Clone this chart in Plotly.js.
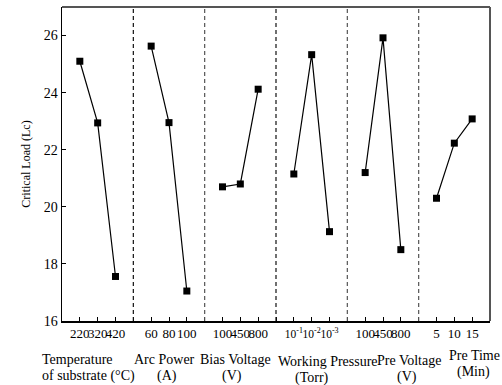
<!DOCTYPE html>
<html>
<head>
<meta charset="utf-8">
<script src="https://cdn.plot.ly/plotly-3.0.1.min.js"></script>
<style>html,body{margin:0;padding:0;background:#fff;}#chart{width:502px;height:385px;}</style>
</head>
<body>
<div id="chart"></div>
<script>
// Factor groups (two-line labels under the axis)
const groupLine1 = ["Temperature", "Arc Power", "Bias Voltage", "Working Pressure", "Pre Voltage", "Pre Time"];
const groupLine2 = ["of substrate (°C)", "(A)", "(V)", "(Torr)", "(V)", "(Min)"];
// Level tick labels per group
const levelsTemp = ["220", "320", "420"];
const levelsArc = ["60", "80", "100"];
const levelsBias = ["100", "450", "800"];
const levelsPressure = ["<span style='font-size:11.5px'>10<sup>-1</sup></span>", "<span style='font-size:11.5px'>10<sup>-2</sup></span>", "<span style='font-size:11.5px'>10<sup>-3</sup></span>"];
const levelsPreVolt = ["100", "450", "800"];
const levelsPreTime = ["5", "10", "15"];
// Critical load values (Lc) per group
const lcTemp = [25.1, 22.94, 17.56];
const lcArc = [25.63, 22.95, 17.05];
const lcBias = [20.7, 20.8, 24.12];
const lcPressure = [21.15, 25.33, 19.13];
const lcPreVolt = [21.2, 25.92, 18.5];
const lcPreTime = [20.3, 22.23, 23.08];

const levels = [levelsTemp, levelsArc, levelsBias, levelsPressure, levelsPreVolt, levelsPreTime];
const values = [lcTemp, lcArc, lcBias, lcPressure, lcPreVolt, lcPreTime];

const traces = [];
const tickvals = [], ticktext = [], sepvals = [];
levels.forEach((lv, g) => {
  const xs = lv.map((_, j) => g * 4 + j + 1);
  traces.push({
    x: xs, y: values[g], type: 'scatter', mode: 'lines+markers',
    line: {color: '#000', width: 1.2},
    marker: {symbol: 'square', size: 7, color: '#000'},
    showlegend: false, hoverinfo: 'skip'
  });
  xs.forEach((x, j) => { tickvals.push(x); ticktext.push(lv[j]); });
  if (g < levels.length - 1) sepvals.push(g * 4 + 4);
});

const shapes = [];
const sepColors = ['#111', '#555', '#111', '#555', '#555'];
sepvals.forEach((v, k) => {
  shapes.push({type: 'line', xref: 'x', yref: 'paper', x0: v, x1: v, y0: 0, y1: 1,
    line: {color: sepColors[k], width: 1.2, dash: '4px,3px'}});
});
// top and right frame in grey
shapes.push({type: 'line', xref: 'paper', yref: 'paper', x0: 0, x1: 1, y0: 1, y1: 1, line: {color: '#555', width: 2}});
shapes.push({type: 'line', xref: 'paper', yref: 'paper', x0: 1, x1: 1, y0: 0, y1: 1, line: {color: '#555', width: 2}});

const L = 62, R = 490, T = 7, B = 321;
const pos1 = [
  {x: 40, y: 359, anchor: 'left'}, {x: 164, y: 359, anchor: 'center'}, {x: 235, y: 359, anchor: 'center'},
  {x: 328, y: 361, anchor: 'center'}, {x: 409, y: 360, anchor: 'center'}, {x: 474, y: 355, anchor: 'center'}
];
const pos2 = [
  {x: 40, y: 376, anchor: 'left'}, {x: 167, y: 376, anchor: 'center'}, {x: 232, y: 376, anchor: 'center'},
  {x: 312, y: 378, anchor: 'center'}, {x: 407, y: 377, anchor: 'center'}, {x: 473, y: 372, anchor: 'center'}
];
const annFont = {family: 'Liberation Serif, Times New Roman, serif', size: 14, color: '#000'};
const annotations = [];
[[groupLine1, pos1], [groupLine2, pos2]].forEach(([texts, pos]) => {
  texts.forEach((t, g) => annotations.push({
    text: t, showarrow: false, xref: 'paper', yref: 'paper',
    x: (pos[g].x - L) / (R - L), y: (B - pos[g].y) / (B - T),
    xanchor: pos[g].anchor, yanchor: 'middle', font: annFont
  }));
});

const layout = {
  width: 502, height: 385,
  margin: {l: L, r: 502 - R, t: T, b: 385 - B},
  paper_bgcolor: '#fff', plot_bgcolor: '#fff',
  font: {family: 'Liberation Serif, Times New Roman, serif', size: 14, color: '#000'},
  xaxis: {
    range: [0, 24], tickmode: 'array', tickvals: tickvals, ticktext: ticktext,
    ticks: 'inside', ticklen: 4, tickcolor: '#000', tickwidth: 1,
    minor: {tickmode: 'array', tickvals: sepvals, ticks: 'inside', ticklen: 4, tickcolor: '#000', tickwidth: 1, showgrid: false},
    showline: true, linecolor: '#000', linewidth: 1.5, showgrid: false, zeroline: false,
    tickfont: {size: 13}, tickangle: 0
  },
  yaxis: {
    range: [16, 27], tickvals: [16, 18, 20, 22, 24, 26],
    ticks: 'inside', ticklen: 4, tickcolor: '#000', tickwidth: 1,
    showline: true, linecolor: '#000', linewidth: 1.5, showgrid: false, zeroline: false,
    tickfont: {size: 14},
    title: {text: 'Critical Load (Lc)', font: {size: 12}, standoff: 10}
  },
  shapes: shapes,
  annotations: annotations
};

Plotly.newPlot('chart', traces, layout, {displayModeBar: false, staticPlot: true});
</script>
</body>
</html>
